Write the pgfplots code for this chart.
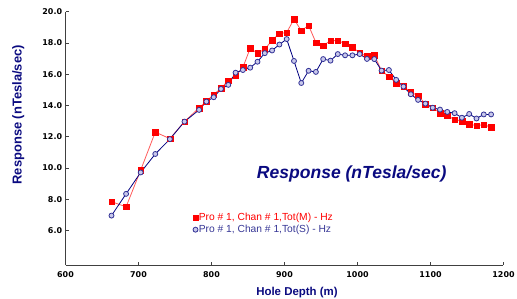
\documentclass[border=0pt]{standalone}
\usepackage{pgfplots}
\pgfplotsset{compat=1.18}
\usepackage{fontspec}
\setmainfont{Liberation Sans}
\newfontfamily\tickfont{DejaVu Sans}
\definecolor{navyT}{RGB}{10,10,128}
\definecolor{redL}{RGB}{255,90,90}
\definecolor{blueL}{RGB}{0,0,128}
\definecolor{blueMk}{RGB}{50,50,150}
\definecolor{blueFill}{RGB}{200,200,235}
\definecolor{legBlue}{RGB}{55,55,150}
\pgfplotstableread{
d m
663 7.85
683 7.52
703 9.87
723 12.3
743 11.88
763 12.97
783 13.85
793 14.27
803 14.7
813 15.1
823 15.6
833 15.9
843 16.44
853 17.66
863 17.35
873 17.6
883 18.17
893 18.6
903 18.67
913 19.52
923 18.79
933 19.12
943 18.03
953 17.83
963 18.15
973 18.15
983 17.96
993 17.73
1003 17.37
1013 17.14
1023 17.21
1033 16.23
1043 15.85
1053 15.44
1063 15.23
1073 14.84
1083 14.63
1093 14.1
1103 13.86
1113 13.53
1123 13.35
1133 13.1
1143 13.01
1153 12.82
1163 12.71
1173 12.78
1183 12.6
}\totm
\pgfplotstableread{
d s
663 6.96
683 8.35
703 9.72
723 10.9
743 11.85
763 12.97
783 13.72
793 14.25
803 14.53
813 15.06
823 15.32
833 16.1
843 16.27
853 16.42
863 16.8
873 17.35
883 17.52
893 17.9
903 18.25
913 16.85
923 15.44
933 16.22
943 16.15
953 16.97
963 16.87
973 17.29
983 17.21
993 17.21
1003 17.29
1013 16.98
1023 16.97
1033 16.23
1043 16.27
1053 15.64
1063 15.21
1073 14.72
1083 14.36
1093 14.12
1103 13.86
1113 13.74
1123 13.59
1133 13.51
1143 13.22
1153 13.46
1163 13.17
1173 13.43
1183 13.43
}\tots
\begin{document}
\begin{tikzpicture}
\path[use as bounding box] (0,0) rectangle (517bp,299bp);
\begin{axis}[
  at={(65.5bp,34bp)}, anchor=south west,
  scale only axis, width=438bp, height=253.3bp,
  xmin=600, xmax=1200, ymin=3.8, ymax=20,
  axis x line*=bottom, axis y line*=left,
  axis line style={-, black!75, line width=0.8bp},
  tick align=inside, major tick length=3bp,
  tick style={black!75, line width=0.7bp},
  xtick={600,700,...,1200}, ytick={6,8,...,20},
  /pgf/number format/assume math mode=true,
  /pgf/number format/1000 sep={},
  ticklabel style={font=\tickfont\bfseries\fontsize{8}{9}\selectfont, black},
  yticklabel style={/pgf/number format/.cd, fixed, fixed zerofill, precision=1, /tikz/.cd, anchor=east, inner sep=0pt, xshift=-3.2bp},
  xticklabel style={anchor=north, inner sep=0pt, yshift=-6.4bp},
  xlabel={Hole Depth (m)},
  xlabel style={at={(axis description cs:0.5286,0)}, anchor=base, yshift=-30.7bp, font=\bfseries\fontsize{11.5}{13}\selectfont, text=navyT},
  ylabel={Response (nTesla/sec)},
  every axis y label/.style={at={(axis description cs:-0.1,0.593)}, rotate=90, anchor=base, inner sep=0pt, font=\bfseries\fontsize{13}{15}\selectfont, text=navyT},
  title={Response (nTesla/sec)},
  title style={at={(axis description cs:0.6534,0.3186)}, anchor=base, font=\bfseries\itshape\fontsize{17.6}{19}\selectfont, text=navyT},
  legend image code/.code={\draw[#1] plot coordinates {(0.08cm,0cm)};},
  legend style={draw=none, fill=none, at={(axis description cs:0.29,0.163)}, anchor=west, inner sep=0pt, font=\fontsize{10.3}{12}\selectfont, row sep=2pt, nodes={inner sep=0.5pt}},
  legend cell align=left,
]
\addplot[redL, line width=0.8bp, mark=square*, mark size=2.8bp, mark options={draw=red, fill=red, line width=0.3bp}] table[x=d, y=m] {\totm};
\addlegendentry{\textcolor{red}{Pro \# 1, Chan \# 1,Tot(M) - Hz}}
\addplot[blueL, line width=0.8bp, mark=*, mark size=2.5bp, mark options={draw=blueMk, fill=blueFill, line width=0.8bp}] table[x=d, y=s] {\tots};
\addlegendentry{\textcolor{legBlue}{Pro \# 1, Chan \# 1,Tot(S) - Hz}}
\end{axis}
\end{tikzpicture}
\end{document}
